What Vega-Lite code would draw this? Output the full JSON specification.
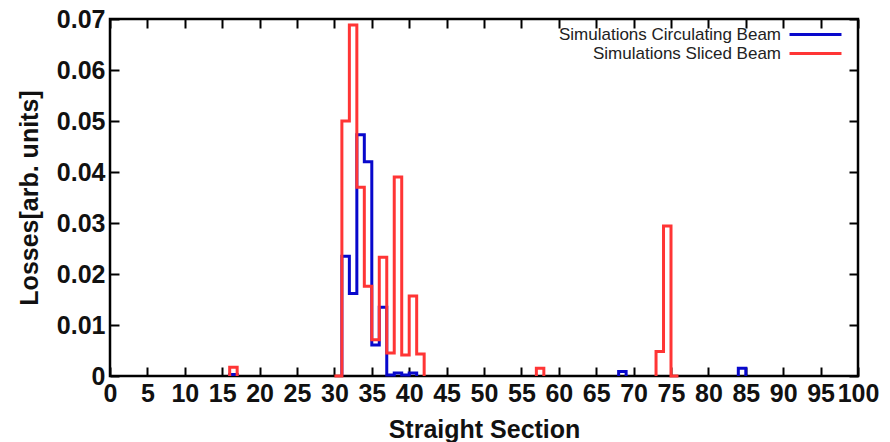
{
  "$schema": "https://vega.github.io/schema/vega-lite/v6.json",
  "width": 748,
  "height": 357,
  "autosize": {"type": "none"},
  "padding": {"left": 110, "top": 19, "right": 32, "bottom": 66},
  "background": "white",
  "config": {
    "font": "Liberation Sans",
    "view": {"stroke": "black", "strokeWidth": 2.5},
    "axis": {
      "grid": false,
      "domain": false,
      "tickColor": "black",
      "tickWidth": 2,
      "tickSize": -9,
      "labelFont": "Liberation Sans",
      "labelFontSize": 25,
      "labelFontWeight": "bold",
      "labelColor": "#111",
      "labelOverlap": false,
      "labelFlush": false,
      "titleFont": "Liberation Sans",
      "titleFontSize": 25,
      "titleFontWeight": "bold",
      "titleColor": "#111"
    }
  },
  "data": {
    "values": [
      {"series": "Simulations Circulating Beam", "seg": "b1", "k": 1, "section": 16, "loss": 0},
      {"series": "Simulations Circulating Beam", "seg": "b1", "k": 2, "section": 16, "loss": 0.0003},
      {"series": "Simulations Circulating Beam", "seg": "b1", "k": 3, "section": 17, "loss": 0},
      {"series": "Simulations Circulating Beam", "seg": "b2", "k": 4, "section": 31, "loss": 0},
      {"series": "Simulations Circulating Beam", "seg": "b2", "k": 5, "section": 31, "loss": 0.0235},
      {"series": "Simulations Circulating Beam", "seg": "b2", "k": 6, "section": 32, "loss": 0.0162},
      {"series": "Simulations Circulating Beam", "seg": "b2", "k": 7, "section": 33, "loss": 0.0473},
      {"series": "Simulations Circulating Beam", "seg": "b2", "k": 8, "section": 34, "loss": 0.042},
      {"series": "Simulations Circulating Beam", "seg": "b2", "k": 9, "section": 35, "loss": 0.0061},
      {"series": "Simulations Circulating Beam", "seg": "b2", "k": 10, "section": 36, "loss": 0.0135},
      {"series": "Simulations Circulating Beam", "seg": "b2", "k": 11, "section": 37, "loss": 0.0002},
      {"series": "Simulations Circulating Beam", "seg": "b2", "k": 12, "section": 38, "loss": 0.0006},
      {"series": "Simulations Circulating Beam", "seg": "b2", "k": 13, "section": 39, "loss": 0.0002},
      {"series": "Simulations Circulating Beam", "seg": "b2", "k": 14, "section": 40, "loss": 0.0006},
      {"series": "Simulations Circulating Beam", "seg": "b2", "k": 15, "section": 41, "loss": 0},
      {"series": "Simulations Circulating Beam", "seg": "b3", "k": 16, "section": 68, "loss": 0},
      {"series": "Simulations Circulating Beam", "seg": "b3", "k": 17, "section": 68, "loss": 0.0009},
      {"series": "Simulations Circulating Beam", "seg": "b3", "k": 18, "section": 69, "loss": 0},
      {"series": "Simulations Circulating Beam", "seg": "b4", "k": 19, "section": 84, "loss": 0},
      {"series": "Simulations Circulating Beam", "seg": "b4", "k": 20, "section": 84, "loss": 0.0015},
      {"series": "Simulations Circulating Beam", "seg": "b4", "k": 21, "section": 85, "loss": 0},
      {"series": "Simulations Sliced Beam", "seg": "r1", "k": 22, "section": 16, "loss": 0},
      {"series": "Simulations Sliced Beam", "seg": "r1", "k": 23, "section": 16, "loss": 0.0017},
      {"series": "Simulations Sliced Beam", "seg": "r1", "k": 24, "section": 17, "loss": 0},
      {"series": "Simulations Sliced Beam", "seg": "r2", "k": 25, "section": 30, "loss": 0},
      {"series": "Simulations Sliced Beam", "seg": "r2", "k": 26, "section": 31, "loss": 0.05},
      {"series": "Simulations Sliced Beam", "seg": "r2", "k": 27, "section": 32, "loss": 0.0688},
      {"series": "Simulations Sliced Beam", "seg": "r2", "k": 28, "section": 33, "loss": 0.037},
      {"series": "Simulations Sliced Beam", "seg": "r2", "k": 29, "section": 34, "loss": 0.0176},
      {"series": "Simulations Sliced Beam", "seg": "r2", "k": 30, "section": 35, "loss": 0.0071},
      {"series": "Simulations Sliced Beam", "seg": "r2", "k": 31, "section": 36, "loss": 0.0233},
      {"series": "Simulations Sliced Beam", "seg": "r2", "k": 32, "section": 37, "loss": 0.0045},
      {"series": "Simulations Sliced Beam", "seg": "r2", "k": 33, "section": 38, "loss": 0.039},
      {"series": "Simulations Sliced Beam", "seg": "r2", "k": 34, "section": 39, "loss": 0.0041},
      {"series": "Simulations Sliced Beam", "seg": "r2", "k": 35, "section": 40, "loss": 0.0157},
      {"series": "Simulations Sliced Beam", "seg": "r2", "k": 36, "section": 41, "loss": 0.0043},
      {"series": "Simulations Sliced Beam", "seg": "r2", "k": 37, "section": 42, "loss": 0},
      {"series": "Simulations Sliced Beam", "seg": "r3", "k": 38, "section": 57, "loss": 0},
      {"series": "Simulations Sliced Beam", "seg": "r3", "k": 39, "section": 57, "loss": 0.0015},
      {"series": "Simulations Sliced Beam", "seg": "r3", "k": 40, "section": 58, "loss": 0},
      {"series": "Simulations Sliced Beam", "seg": "r4", "k": 41, "section": 73, "loss": 0},
      {"series": "Simulations Sliced Beam", "seg": "r4", "k": 42, "section": 73, "loss": 0.0048},
      {"series": "Simulations Sliced Beam", "seg": "r4", "k": 43, "section": 74, "loss": 0.0294},
      {"series": "Simulations Sliced Beam", "seg": "r4", "k": 44, "section": 75, "loss": 0},
      {"series": "Simulations Sliced Beam", "seg": "r4", "k": 45, "section": 76, "loss": 0}
    ]
  },
  "layer": [
    {
      "mark": {"type": "line", "interpolate": "step-after", "strokeWidth": 3, "strokeCap": "butt", "strokeJoin": "miter"},
      "encoding": {
        "x": {
          "field": "section", "type": "quantitative",
          "scale": {"domain": [0, 100], "nice": false, "zero": false},
          "axis": {"orient": "bottom", "values": [0,5,10,15,20,25,30,35,40,45,50,55,60,65,70,75,80,85,90,95,100], "format": "d", "labelPadding": 14, "title": "Straight Section", "titlePadding": 11}
        },
        "y": {
          "field": "loss", "type": "quantitative",
          "scale": {"domain": [0, 0.07], "nice": false},
          "axis": {"orient": "left", "values": [0,0.01,0.02,0.03,0.04,0.05,0.06,0.07], "format": ".2~f", "labelPadding": 14, "title": "Losses[arb. units]", "titlePadding": 14}
        },
        "color": {
          "field": "series", "type": "nominal",
          "scale": {"domain": ["Simulations Circulating Beam", "Simulations Sliced Beam"], "range": ["#0808cc", "#ff3535"]},
          "legend": {
            "orient": "none", "legendX": 695, "legendY": 5, "title": null,
            "symbolType": "M-3,0H3", "symbolSize": 300, "symbolStrokeWidth": 3, "symbolFillColor": "transparent",
            "labelFont": "Liberation Sans", "labelFontSize": 17, "labelColor": "#222",
            "labelAlign": "right", "labelOffset": -45, "labelLimit": 400,
            "rowPadding": 0, "padding": 0, "offset": 0
          }
        },
        "detail": {"field": "seg"},
        "order": {"field": "k"}
      }
    },
    {
      "mark": {"type": "line", "strokeOpacity": 0},
      "encoding": {
        "x": {
          "field": "section", "type": "quantitative",
          "scale": {"domain": [0, 100], "nice": false, "zero": false},
          "axis": {"orient": "top", "values": [0,5,10,15,20,25,30,35,40,45,50,55,60,65,70,75,80,85,90,95,100], "labels": false, "title": null}
        },
        "y": {
          "field": "loss", "type": "quantitative",
          "scale": {"domain": [0, 0.07], "nice": false},
          "axis": {"orient": "right", "values": [0,0.01,0.02,0.03,0.04,0.05,0.06,0.07], "labels": false, "title": null}
        },
        "detail": {"field": "seg"},
        "order": {"field": "k"}
      }
    }
  ],
  "resolve": {"axis": {"x": "independent", "y": "independent"}}
}
